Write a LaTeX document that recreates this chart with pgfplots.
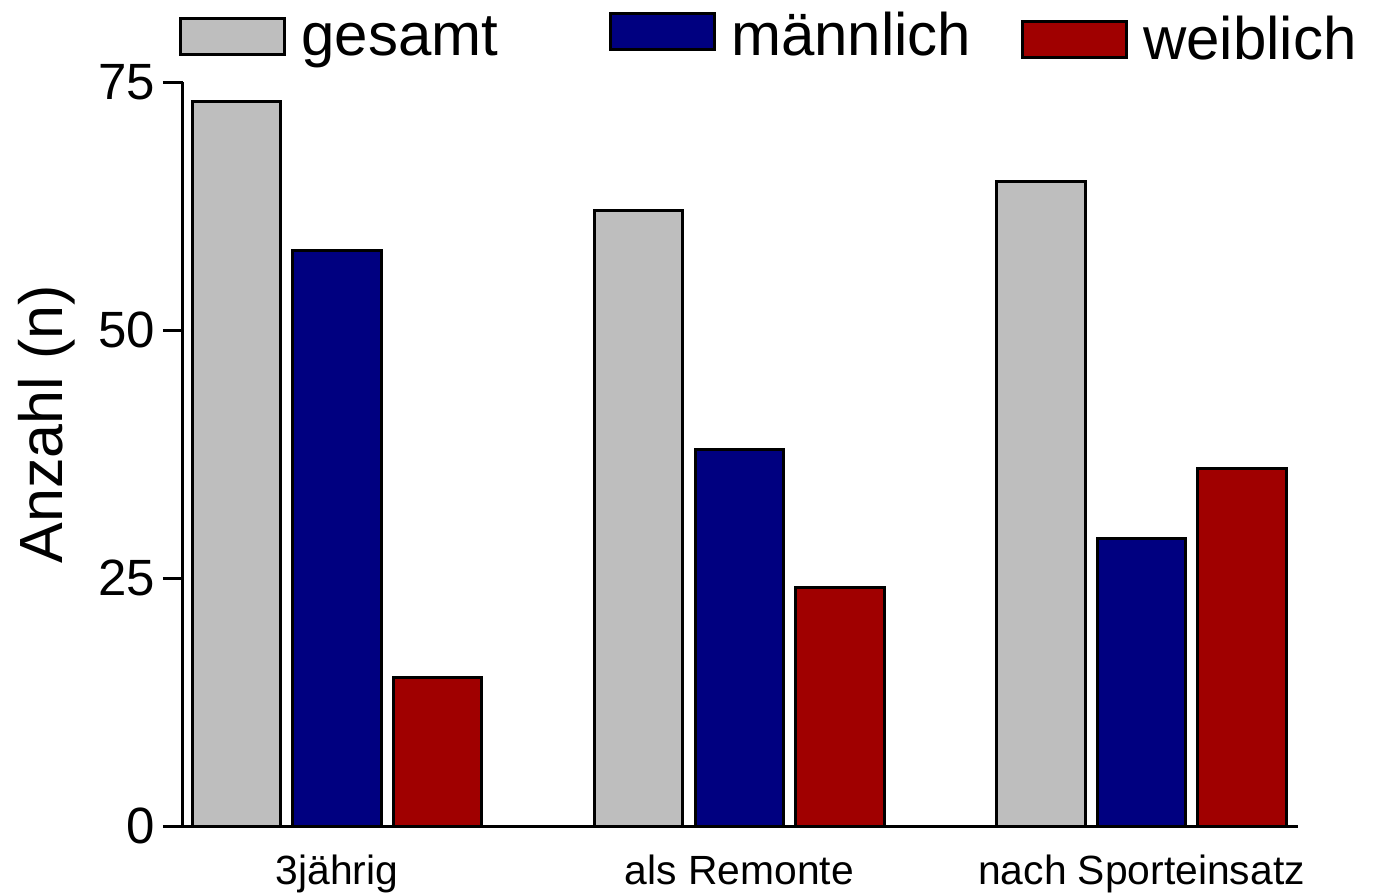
\documentclass[border=0pt]{standalone}
\usepackage{fontspec}
\setmainfont{Liberation Sans}
\usepackage{pgfplots}
\pgfplotsset{compat=1.18}
\definecolor{cgray}{HTML}{BEBEBE}
\definecolor{cnavy}{HTML}{000080}
\definecolor{cred}{HTML}{A00000}
\pgfplotsset{
  boxup/.style={legend image code/.code={\draw[##1, line width=1.5pt] (0pt,-6pt) rectangle (52pt,12pt);}},
  boxdown/.style={legend image code/.code={\draw[##1, line width=1.5pt] (0pt,-10pt) rectangle (52pt,8pt);}},
}
\begin{document}
\begin{tikzpicture}
\useasboundingbox (-91.5pt,-34.5pt) rectangle (598.5pt,413pt);
\begin{axis}[
  at={(0,0)}, anchor=south west,
  scale only axis, width=557.5pt, height=372pt,
  xmin=-0.383, xmax=2.389, ymin=0, ymax=75,
  axis lines=left, axis line style={-, line width=1.5pt},
  ytick={0,25,50,75}, tick align=outside, major tick length=10pt,
  ytick style={line width=1.5pt, black},
  xtick={0,1,2}, xticklabels={3jährig, als Remonte, nach Sporteinsatz},
  xtick style={draw=none},
  /pgf/number format/assume math mode=true,
  yticklabel style={font=\fontsize{25.5}{30}\selectfont, xshift=-0.5pt},
  xticklabel style={font=\fontsize{20.4}{24}\selectfont, yshift=-1pt},
  ylabel={Anzahl (n)},
  ylabel style={font=\fontsize{30.5}{36}\selectfont, at={(axis description cs:-0.09,0.54)}, anchor=south, rotate=0},
  ybar, bar width=0.22,
  every axis plot/.append style={draw=black, line width=1.5pt},
  legend columns=3,
  legend style={draw=none, fill=none, inner sep=0pt, column sep=0pt,
    at={(axis description cs:-0.0036,1.0226)}, anchor=south west,
    nodes={inner xsep=3pt, inner ysep=1pt},
    font=\fontsize{30}{36}\selectfont},
  legend image code/.code={\draw[#1, line width=1.5pt] (0pt,-8.5pt) rectangle (52pt,9.5pt);},
]
\addplot[fill=cgray, bar shift=-0.25] coordinates {(0,73) (1,62) (2,65)};
\addplot[fill=cnavy, bar shift=0, boxup] coordinates {(0,58) (1,38) (2,29)};
\addplot[fill=cred, bar shift=0.25, boxdown] coordinates {(0,15) (1,24) (2,36)};
\legend{\hspace*{4.5pt}gesamt\hspace*{52.5pt}, \hspace*{4.5pt}\raisebox{2pt}{männlich}\hspace*{22pt}, \hspace*{4.5pt}\raisebox{-1.5pt}{weiblich}}
\end{axis}
\end{tikzpicture}
\end{document}
